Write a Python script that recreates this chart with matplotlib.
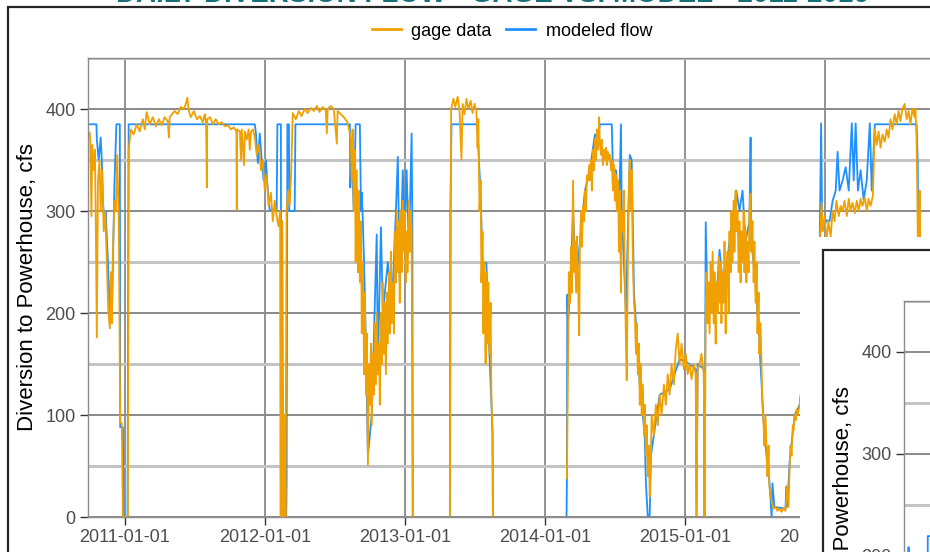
import numpy as np
import pandas as pd
import matplotlib
matplotlib.use("Agg")
import matplotlib.pyplot as plt
import matplotlib.dates as mdates
from matplotlib.patches import Rectangle
from matplotlib.lines import Line2D
from matplotlib.ticker import MultipleLocator

plt.rcParams['font.family'] = ['Liberation Sans', 'DejaVu Sans']

START = pd.Timestamp('2010-10-01')   # day 0 of the record
NA = np.nan

# gage data, days since 2010-10-01 and cfs (NA = no record)
gage_day = [0, 2, 5, 7, 11, 14, 16, 19, 22, 26, 29, 33, 37, 41, 45, 49, 53, 56, 58, 61,
            65, 69, 72, 76, 80, 84, 87, 100, 102, 108, 115, 123, 131, 139, 144, 149, 157, 165, 173, 181,
            188, 196, 204, 207, 209, 215, 222, 230, 238, 246, 251, 255, 259, 264, 272, 280, 288, 295, 301, 304,
            306, 307, 314, 322, 329, 337, 345, 353, 361,
            369, 376, 383, 384, 385, 392, 395, 397, 403, 405, 410, 415, 418, 421, 426, 431, 436, 442, 447, 452,
            457, 462, 467, 473, 478, 483, 488, 493, 497, 498, 501, 503, 506, 509, 511, 514, 518, 522, 526, 530,
            538, 546, 553, 561, 569, 577, 585, 593, 600, 608, 616, 619, 621, 629, 637, 645, 647, 655, 663, 671,
            676, 681, 684, 686, 689, 692, 694, 697, 700, 702, 705,
            708, 710, 713, 716, 718, 721, 723, 726, 729, 731, 734, 736, 739, 742, 744, 747, 749, 752, 755, 757,
            760, 762, 765, 768, 770, 773, 775, 778, 781, 783, 786, 788, 791, 794, 796, 799, 801, 804, 807, 809,
            812, 814, 817, 820, 822, 825, 827, 830, 833, 835, 838, 840, 843, 844,
            940, 943, 949, 954, 960, 965, 970, 973, 978, 983, 988, 994, 999, 1004, 1009, 1012, 1014, 1017, 1020, 1022,
            1025, 1027, 1030, 1033, 1035, 1038, 1040, 1043, 1046, 1048, 1051, 1052, 1053,
            1245, 1248, 1250, 1253, 1256, 1258, 1261, 1264, 1266, 1269, 1271, 1274, 1277, 1279, 1282, 1284, 1287, 1290, 1292, 1295,
            1297, 1300, 1303, 1305, 1308, 1310, 1313, 1316, 1318, 1321, 1323, 1326, 1329, 1331, 1334, 1336, 1339, 1342, 1344, 1347,
            1349, 1352, 1355, 1357, 1360, 1362, 1365, 1368, 1370, 1373, 1375, 1378, 1381, 1383, 1386, 1388, 1391, 1394, 1396, 1399,
            1401, 1404, 1407, 1409, 1412, 1414, 1417, 1420, 1422, 1425, 1427, 1430, 1433, 1435, 1438, 1440, 1443, 1446, 1448, 1451,
            1453, 1456, 1459, 1461, 1464, 1466, 1472, 1477, 1482, 1487, 1492, 1498, 1503, 1508, 1513, 1518, 1524, 1529, 1534, 1539,
            1544, 1550, 1555, 1560, 1565, 1570, 1576, 1581, 1583, 1586, 1591, 1596, 1602, 1604, 1607, 1609, 1612, 1614, 1617, 1620,
            1622, 1625, 1628, 1630, 1633, 1635, 1638, 1641, 1643, 1646, 1648, 1651, 1654, 1656, 1659, 1661, 1664, 1667, 1669, 1672,
            1674, 1677, 1680, 1682, 1685, 1687, 1690, 1693, 1695, 1698, 1700, 1703, 1706, 1708, 1711, 1713, 1716, 1719, 1721, 1724,
            1726, 1729, 1732, 1734, 1737, 1740, 1742, 1745, 1747, 1750, 1753, 1755, 1758, 1760, 1763, 1766, 1768, 1771, 1773, 1779,
            1784, 1789, 1794, 1799, 1805, 1810, 1815, 1819, 1823, 1826, 1828, 1831, 1834, 1836, 1839, 1842, 1844, 1847, 1852, 1865,
            1878, 1891, 1904, 1909, 1912, 1917, 1922, 1927, 1933, 1938, 1943, 1948, 1954, 1959, 1964, 1969, 1975, 1980, 1985, 1990,
            1996, 2001, 2006, 2011, 2016, 2022, 2027, 2032, 2037, 2043, 2048, 2053, 2058, 2063, 2068, 2074, 2079, 2084, 2089, 2094,
            2100, 2105, 2110, 2115, 2120, 2126, 2131, 2136, 2141, 2146, 2152, 2154, 2157, 2160, 2162, 2165, 2167, 2172, 2180, 2191]
gage_cfs = [377, 370, 295, 365, 340, 360, 300, 176, 330, 350, 300, 340, 280, 300, 250, 200, 185, 240, 190, 260,
            310, 300, 355, 300, 92, 92, 0, 0, 360, 380, 375, 385, 378, 390, 380, 397, 385, 392, 383, 390,
            384, 392, 388, 372, 392, 395, 398, 395, 402, 400, 405, 411, 398, 392, 398, 390, 393, 387, 395, 385,
            323, 390, 392, 385, 390, 385, 387, 383, 384,
            380, 382, 378, 301, 380, 378, 350, 380, 345, 378, 370, 380, 360, 378, 380, 372, 355, 365, 340, 350,
            320, 335, 305, 318, 290, 310, 295, 285, 300, 0, 0, 290, 0, 100, 0, 300, 320, 305, 340, 396,
            390, 398, 393, 400, 396, 401, 398, 403, 397, 402, 399, 376, 400, 403, 400, 366, 398, 395, 392, 388,
            382, 370, 330, 380, 300, 360, 250, 340, 240, 320, 230,
            290, 180, 250, 140, 220, 120, 180, 51, 150, 110, 170, 90, 160, 120, 190, 130, 200, 140, 170, 110,
            200, 150, 230, 160, 210, 140, 220, 170, 240, 180, 260, 190, 230, 180, 280, 230, 300, 240, 290, 210,
            300, 240, 310, 260, 300, 230, 280, 240, 310, 260, 300, 280, 0, NA,
            0, 400, 410, 402, 412, 398, 350, 405, 395, 410, 400, 408, 396, 405, 398, 362, 390, 300, 330, 230,
            280, 180, 250, 150, 240, 170, 230, 160, 210, 120, 83, 0, NA,
            38, 150, 240, 210, 265, 220, 330, 240, 270, 220, 275, 230, 178, 270, 300, 265, 305, 290, 320, 300,
            335, 330, 345, 330, 350, 320, 360, 340, 370, 350, 380, 360, 392, 365, 355, 370, 345, 360, 350, 362,
            345, 358, 350, 355, 340, 350, 320, 345, 310, 335, 300, 330, 260, 320, 220, 300, 280, 320, 240, 170,
            134, 250, 330, 350, 300, 340, 250, 210, 200, 160, 190, 140, 170, 110, 150, 100, 130, 80, 110, 60,
            90, 40, 70, 20, 60, 100, 80, 110, 90, 120, 100, 130, 110, 140, 120, 150, 130, 165, 180, 150,
            170, 145, 160, 140, 150, 135, 150, 140, 0, 145, 150, 160, 140, 0, 200, 240, 190, 230, 180, 250,
            200, 260, 190, 240, 170, 230, 200, 255, 210, 250, 190, 240, 210, 270, 180, 230, 260, 200, 280, 240,
            300, 250, 310, 260, 320, 280, 300, 240, 290, 230, 280, 250, 300, 240, 280, 230, 270, 240, 300, 317,
            260, 290, 230, 270, 210, 250, 180, 220, 160, 190, 140, 110, 90, 70, 100, 60, 40, 70, 30, 15,
            8, 10, 6, 8, 5, 9, 6, 30, 10, 50, 70, 60, 90, 85, 100, 95, 105, 100, 110, 150,
            200, 230, 260, 308, 280, 295, 270, 290, 275, 300, 290, 310, 295, 305, 300, 310, 295, 312, 300, 308,
            298, 310, 300, 312, 305, 313, 300, 312, 305, 315, 380, 365, 378, 362, 375, 368, 380, 372, 390, 380,
            395, 385, 398, 388, 400, 405, 390, 398, 385, 400, 392, 400, 370, 280, 200, 320, 250, 150, 100, 90]

# modeled flow, days since 2010-10-01 and cfs
model_day = [0, 18, 19, 24, 29, 32, 35, 40, 42, 48, 53, 56, 58, 65, 70, 79, 80, 87, 89, 99,
             100, 102, 431, 434, 439, 444, 449, 454, 460, 465, 470, 488, 490, 499, 500, 513, 514, 516, 520, 521,
             535, 537, 679, 680, 684, 689, 694, 705, 708, 710, 713, 718, 726, 736, 749, 752, 760, 765, 778, 788,
             799, 804, 809, 817, 822, 827, 833, 840, 842, 843, 844,
             940, 941, 944, 1012, 1014, 1020, 1025, 1035, 1043, 1051, 1052, 1053,
             1244, 1245, 1246, 1248, 1253, 1261, 1269, 1279, 1292, 1305, 1318, 1326, 1331, 1362, 1365, 1373, 1381, 1386,
             1388, 1399, 1404, 1409, 1414, 1420, 1435, 1448, 1451, 1456, 1461, 1464, 1487, 1513, 1539, 1565, 1581, 1583,
             1586, 1602, 1604, 1607, 1612, 1622, 1633, 1643, 1654, 1669, 1680, 1687, 1695, 1703, 1711, 1721, 1724, 1726,
             1737, 1747, 1760, 1773, 1779, 1781, 1786, 1815, 1817, 1820, 1826, 1839, 1852, 1878, 1904, 1908, 1911, 1922,
             1930, 1938, 1946, 1951, 1956, 1964, 1972, 1980, 1988, 1993, 1998, 2004, 2011, 2019, 2027, 2035, 2040, 2048,
             2157, 2160, 2162, 2167, 2180, 2191]
model_cfs = [385, 385, 370, 350, 372, 350, 309, 284, 300, 250, 200, 220, 190, 327, 385, 385, 88, 88, 0, 0,
             130, 385, 385, 376, 347, 376, 350, 330, 350, 320, 301, 301, 385, 385, 0, 0, 36, 385, 385, 300,
             300, 385, 385, 323, 360, 300, 385, 385, 300, 318, 288, 220, 60, 100, 277, 150, 284, 200, 250, 200,
             300, 353, 230, 340, 280, 340, 260, 376, 280, 0, NA,
             0, 298, 385, 385, 362, 316, 250, 249, 160, 83, 0, NA,
             0, 36, 218, 190, 220, 300, 230, 270, 320, 340, 375, 370, 385, 385, 340, 340, 300, 385,
             300, 200, 280, 355, 350, 220, 130, 80, 33, 0, 2, 60, 120, 125, 155, 150, 145, 0,
             150, 145, 0, 289, 200, 210, 200, 262, 220, 270, 300, 320, 300, 320, 270, 290, 372, 270,
             230, 170, 80, 35, 0, 33, 10, 8, 30, 10, 55, 100, 110, 200, 260, 386, 280, 291,
             290, 310, 320, 358, 320, 330, 343, 320, 386, 330, 386, 320, 340, 311, 330, 386, 320, 385,
             385, 347, 250, 230, 100, 90]

# the second (overlapping) chart window: only a sliver of its record shows
inset_day = [0, 6, 7, 9, 10, 57, 58, 66, 67, 120]
inset_model = [150, 150, 208, 208, 150, 150, 219, 219, 150, 150]

title_text = "DAILY DIVERSION FLOW - GAGE VS. MODEL - 2011-2016"
y_label = "Diversion to Powerhouse, cfs"
legend_labels = ["gage data", "modeled flow"]

GAGE_COLOR = '#f0a000'
MODEL_COLOR = '#1e90ff'

W, H = 930, 552
fig = plt.figure(figsize=(W / 100, H / 100), dpi=100)


def box(left, top, right, bottom):
    # pixel box -> figure fraction
    return [left / W, 1 - bottom / H, (right - left) / W, (bottom - top) / H]


def to_dates(days):
    return START + pd.to_timedelta(days, unit='D')


def style_axes(ax):
    ax.set_xlim(START - pd.Timedelta(days=4), START + pd.Timedelta(days=2205))
    ax.set_ylim(0, 450)
    ax.xaxis.set_major_locator(mdates.YearLocator())
    ax.xaxis.set_major_formatter(mdates.DateFormatter('%Y-%m-%d'))
    ax.yaxis.set_major_locator(MultipleLocator(100))
    ax.yaxis.set_minor_locator(MultipleLocator(50))
    ax.set_axisbelow(True)
    ax.grid(which='minor', axis='y', color='#c4c4c4', lw=2.2)
    ax.grid(which='major', axis='y', color='#8a8a8a', lw=1.4)
    ax.grid(which='major', axis='x', color='#808080', lw=1.2)
    ax.tick_params(which='major', length=6, width=1, color='#333333',
                   labelcolor='#4d4d4d', labelsize=13, pad=3)
    ax.tick_params(which='minor', length=0)
    for sp in ax.spines.values():
        sp.set_color('#8c8c8c')
        sp.set_linewidth(1)
    ax.set_ylabel(y_label, fontsize=16, color='black')
    ax.yaxis.set_label_coords(-50 / 847, 0.5)


# main chart
ax = fig.add_axes(box(88, 58, 935, 517))
style_axes(ax)
ax.plot(to_dates(model_day), model_cfs, color=MODEL_COLOR, lw=1.3)
ax.plot(to_dates(gage_day), gage_cfs, color=GAGE_COLOR, lw=1.3)

handles = [Line2D([], [], color=GAGE_COLOR, lw=2), Line2D([], [], color=MODEL_COLOR, lw=2)]
fig.legend(handles, legend_labels, loc='center', bbox_to_anchor=(512 / W, 1 - 31 / H),
           ncol=2, frameon=False, fontsize=13, handlelength=1.6, handletextpad=0.6,
           columnspacing=0.8)

# window frame and title sliver above it
fig.add_artist(Rectangle((8 / W, -0.1), 1.2, 1 - 7 / H + 0.1, transform=fig.transFigure,
                         fill=False, edgecolor='#262626', lw=1.6))
fig.text(492 / W, 1 - 2 / H, title_text, color='#16707a', fontsize=20, fontweight='bold',
         ha='center', va='baseline')

# overlapping second window at lower right
fig.add_artist(Rectangle((800 / W, -0.1), 1, 1 - 237 / H + 0.1, transform=fig.transFigure,
                         facecolor='white', edgecolor='none', zorder=5))
fig.add_artist(Rectangle((823 / W, -0.1), 1, 1 - 250 / H + 0.1, transform=fig.transFigure,
                         facecolor='white', edgecolor='#262626', lw=1.6, zorder=5.5))
ax2 = fig.add_axes(box(904, 301, 1751, 759), zorder=6)
style_axes(ax2)
ax2.plot(to_dates(inset_day), inset_model, color=MODEL_COLOR, lw=1.3)

fig.savefig('out.png', dpi=100)
